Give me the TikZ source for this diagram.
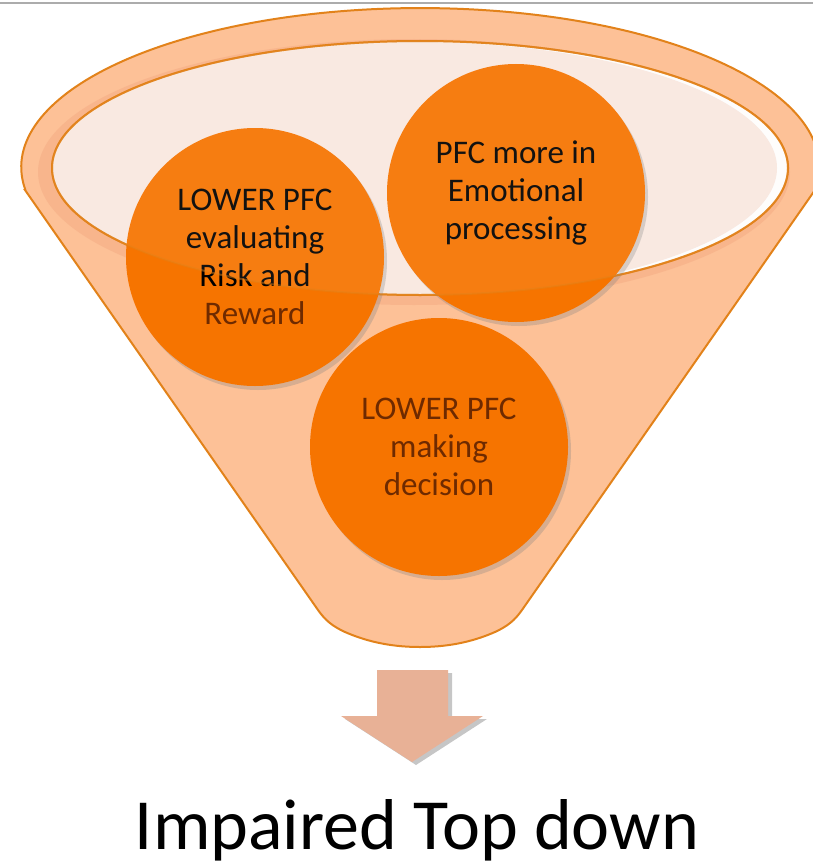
\documentclass[tikz,border=0pt]{standalone}
\usepackage{fontspec}
\setmainfont{Carlito}
\usetikzlibrary{shadows}
\definecolor{peach}{HTML}{FDC197}
\definecolor{rim}{HTML}{E2821A}
\definecolor{band}{HTML}{F6B088}
\definecolor{cream}{HTML}{F9E9E1}
\definecolor{bubblefill}{HTML}{F67400}
\definecolor{darktext}{HTML}{6E2A00}
\definecolor{arrowfill}{HTML}{E8B196}
\tikzset{
  bubble/.style={circle, fill=bubblefill, minimum size=258pt, inner sep=0pt, align=center,
    font=\fontsize{33}{38}\selectfont,
    drop shadow={shadow xshift=3pt, shadow yshift=-4pt, opacity=0.3}},
  rimline/.style={draw=rim, line width=2pt}
}
\begin{document}
\begin{tikzpicture}[x=1pt, y=-1pt]
    \useasboundingbox (0,0) rectangle (813,867);
    \draw[gray!65, line width=2pt] (0,3) -- (813,3);
    \path[rimline, fill=peach] (25,190) -- (318,610) .. controls (325,620) and (332,626) .. (345,632) .. controls (370,643) and (395,647) .. (420,647) .. controls (445,647) and (470,643) .. (495,632) .. controls (508,626) and (515,620) .. (522,610) -- (815,190) arc[start angle=8.3, end angle=-188.3, x radius=399, y radius=159] -- cycle;
    \fill[band, opacity=0.7] (414,172) ellipse[x radius=376, y radius=133];
    \fill[white] (420,168) ellipse[x radius=368, y radius=127];
    \fill[cream] (415,168) ellipse[x radius=362, y radius=126];
    \draw[rimline] (420,168) ellipse[x radius=368, y radius=127];
    \node[bubble] (risk) at (255,257) {LOWER PFC\\evaluating\\Risk and\\\textcolor{darktext}{Reward}};
    \node[bubble] (emotion) at (516,193) {PFC more in\\Emotional\\processing};
    \node[bubble, text=darktext] (decision) at (439,447) {LOWER PFC\\making\\decision};
    \draw[rimline, fill=cream, fill opacity=0.08, draw opacity=0.45] (420,168) ellipse[x radius=368, y radius=127];
    \path[fill=arrowfill, drop shadow={shadow xshift=4pt, shadow yshift=-3pt, opacity=0.45}] (377,670) -- (448,670) -- (448,716) -- (483,716) -- (412,762) -- (341,716) -- (377,716) -- cycle;
    \node[anchor=base, font=\fontsize{72}{86}\selectfont, inner sep=0pt] (result) at (417,849) {Impaired Top down};
\end{tikzpicture}
\end{document}
